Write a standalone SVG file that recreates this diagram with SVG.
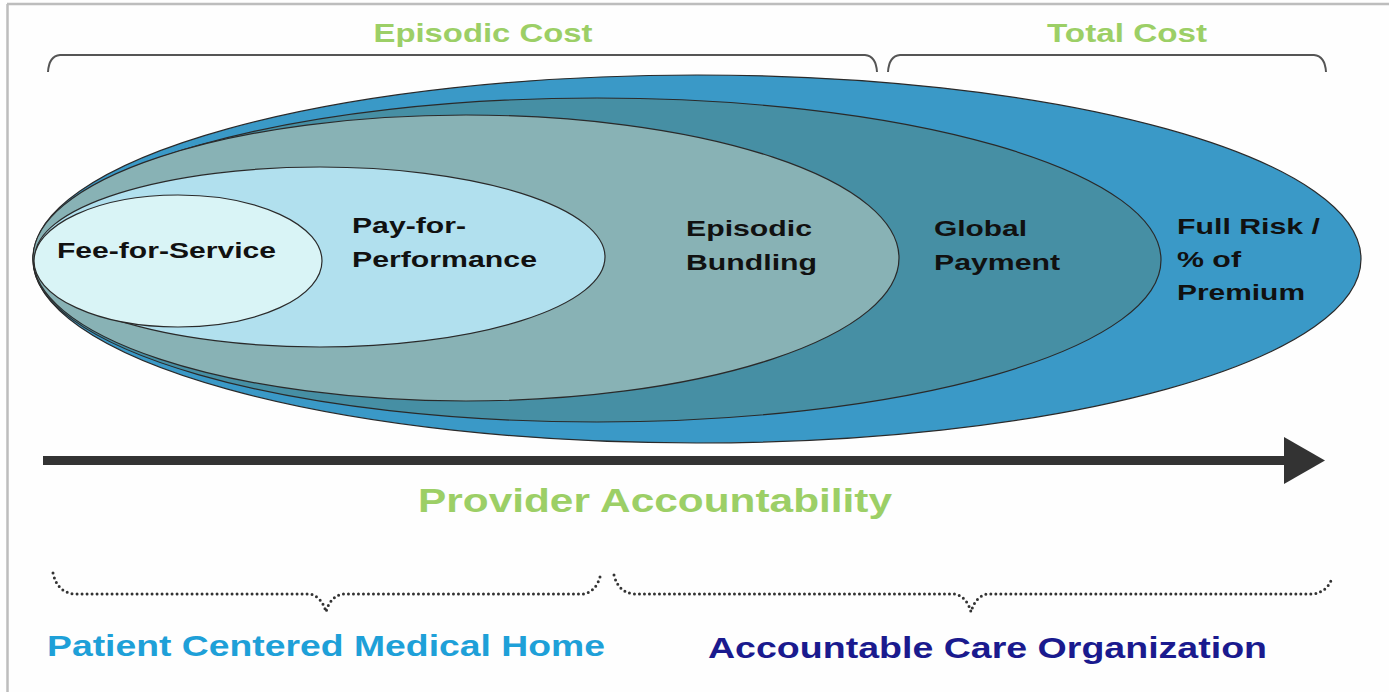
<svg xmlns="http://www.w3.org/2000/svg" width="1389" height="692" viewBox="0 0 1389 692">
<defs>
<style>
.lbl{font-family:"Liberation Sans",Arial,sans-serif;font-weight:bold;font-size:22px;fill:#111;}
.hdr{font-family:"Liberation Sans",Arial,sans-serif;font-weight:bold;font-size:26px;fill:#9ccf66;}
.ell{stroke:#2a2a2a;stroke-width:1.2;}
.brace{fill:none;stroke:#555;stroke-width:2;}
.dots{fill:none;stroke:#333;stroke-width:3;stroke-linecap:round;stroke-dasharray:0 5;}
</style>
</defs>
<rect x="0" y="0" width="1389" height="692" fill="#fefefe"/>
<g id="frame" stroke="#bdbdbd" stroke-width="2.5" fill="none">
<line x1="7" y1="4" x2="1389" y2="4"/>
<line x1="7.5" y1="4" x2="7.5" y2="692"/>
</g>
<g id="header">
<text class="hdr" x="483" y="42" text-anchor="middle" textLength="219" lengthAdjust="spacingAndGlyphs">Episodic Cost</text>
<text class="hdr" x="1127" y="42" text-anchor="middle" textLength="160" lengthAdjust="spacingAndGlyphs">Total Cost</text>
<path class="brace" d="M48,72 Q49,56 60,55 L865,55 Q876,56 877,72"/>
<path class="brace" d="M888,72 Q889,56 900,55 L1314,55 Q1325,56 1326,72"/>
</g>
<g id="full-risk">
<ellipse class="ell" cx="697" cy="259" rx="664" ry="184" fill="#3a99c7"/>
</g>
<g id="global-payment">
<ellipse class="ell" cx="597" cy="260" rx="564" ry="162" fill="#468fa4"/>
</g>
<g id="episodic-bundling">
<ellipse class="ell" cx="466" cy="258" rx="433" ry="143" fill="#88b2b5"/>
</g>
<g id="pay-for-performance">
<ellipse class="ell" cx="320" cy="257" rx="285" ry="90" fill="#b1e0ee"/>
</g>
<g id="fee-for-service">
<ellipse class="ell" cx="178" cy="261" rx="144" ry="66" fill="#d9f4f6"/>
<text class="lbl" x="57" y="258" textLength="219" lengthAdjust="spacingAndGlyphs">Fee-for-Service</text>
</g>
<g id="labels">
<text class="lbl" x="352" y="233" textLength="114" lengthAdjust="spacingAndGlyphs">Pay-for-</text>
<text class="lbl" x="352" y="267" textLength="185" lengthAdjust="spacingAndGlyphs">Performance</text>
<text class="lbl" x="686" y="236" textLength="126" lengthAdjust="spacingAndGlyphs">Episodic</text>
<text class="lbl" x="686" y="270" textLength="131" lengthAdjust="spacingAndGlyphs">Bundling</text>
<text class="lbl" x="934" y="236" textLength="93" lengthAdjust="spacingAndGlyphs">Global</text>
<text class="lbl" x="934" y="270" textLength="126" lengthAdjust="spacingAndGlyphs">Payment</text>
<text class="lbl" x="1177" y="234" textLength="143" lengthAdjust="spacingAndGlyphs">Full Risk /</text>
<text class="lbl" x="1177" y="267" textLength="64" lengthAdjust="spacingAndGlyphs">% of</text>
<text class="lbl" x="1177" y="300" textLength="128" lengthAdjust="spacingAndGlyphs">Premium</text>
</g>
<g id="connectors">
<rect x="43" y="456" width="1245" height="9" fill="#333"/>
<polygon points="1284,437 1325,460.5 1284,484" fill="#333"/>
</g>
<g id="axis-label">
<text x="655" y="512" text-anchor="middle" textLength="474" lengthAdjust="spacingAndGlyphs" style="font-family:'Liberation Sans',Arial,sans-serif;font-weight:bold;font-size:34px;fill:#9ccf66;">Provider Accountability</text>
</g>
<g id="bottom-braces">
<path class="dots" d="M53,573 Q57,592 74,594 L310,594 Q322,597 326,612 Q330,597 342,594 L584,594 Q596,591 600,577"/>
<path class="dots" d="M614,575 Q618,592 634,594 L955,594 Q967,597 971,612 Q975,597 987,594 L1314,594 Q1328,591 1332,578"/>
</g>
<g id="bottom-labels">
<text x="47" y="656" textLength="558" lengthAdjust="spacingAndGlyphs" style="font-family:'Liberation Sans',Arial,sans-serif;font-weight:bold;font-size:30px;fill:#1ea0d8;">Patient Centered Medical Home</text>
<text x="708" y="658" textLength="559" lengthAdjust="spacingAndGlyphs" style="font-family:'Liberation Sans',Arial,sans-serif;font-weight:bold;font-size:30px;fill:#1a1a8e;">Accountable Care Organization</text>
</g>
</svg>
